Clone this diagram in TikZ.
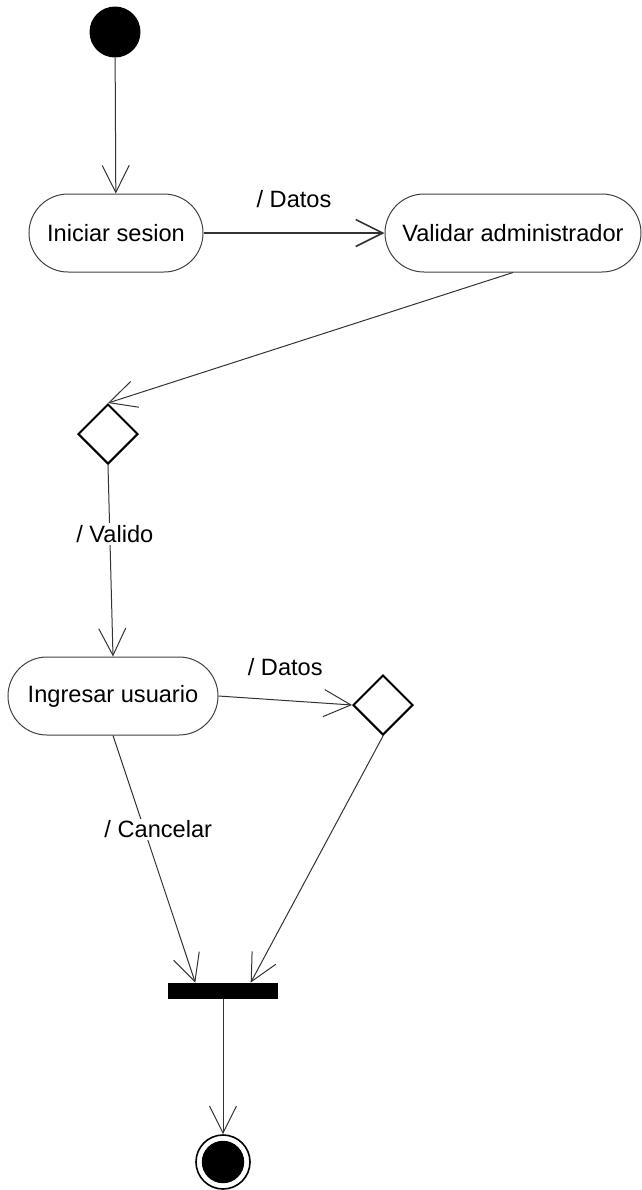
\documentclass[tikz,border=0pt]{standalone}
\usepackage{fontspec}
\setmainfont{Liberation Sans}
\usetikzlibrary{arrows.meta,shapes.geometric,calc}

\begin{document}
\begin{tikzpicture}[x=0.5pt,y=-0.5pt,
	every node/.style={font=\fontsize{11.8}{14}\selectfont},
	startstate/.style={circle,fill=black,minimum size=25.5pt,inner sep=0pt},
	endstate/.style={circle,draw,line width=0.8pt,minimum size=27pt,inner sep=0pt,
		path picture={\fill (path picture bounding box.center) circle (10.6pt);}},
	activity/.style={draw=black!75,line width=0.5pt,rectangle,rounded corners=19.5pt,minimum height=39pt,inner sep=0pt},
	decision/.style={draw,diamond,line width=1pt,aspect=1,minimum size=30pt,inner sep=0pt},
	syncbar/.style={rectangle,fill=black,minimum width=55pt,minimum height=8pt,inner sep=0pt},
	flow/.style={-{Straight Barb[length=13.5pt,width=13.5pt]},line width=0.5pt,draw=black!80},
	guard/.style={fill=white,inner sep=1pt}]
	\useasboundingbox (0,0) rectangle (642,1190);
	% Draw nodes
	\node[startstate] (inicio) at (115,32) {};
	\node[activity,minimum width=87pt] (iniciar) at (116,233) {Iniciar sesion};
	\node[activity,minimum width=128pt] (validar) at (513,233) {Validar administrador};
	\node[decision] (dec1) at (108,434) {};
	\node[activity,minimum width=105pt] (ingresar) at (113,696) {Ingresar usuario};
	\node[decision] (dec2) at (383,705) {};
	\node[syncbar] (barra) at (223,991) {};
	\node[endstate] (fin) at (223,1162) {};
	% Draw transitions
	\draw[flow] (inicio) -- (iniciar);
	\draw[flow,line width=0.8pt] (iniciar) -- node[above=9pt] {/ Datos} (validar);
	\draw[flow] (validar.south) -- (dec1.north);
	\draw[flow] (dec1.south) -- node[guard,pos=0.36,xshift=2.5pt] {/ Valido} (ingresar.north);
	\draw[flow] (ingresar.east) -- node[above=9pt] {/ Datos} (dec2.west);
	\draw[flow] (ingresar.south) -- node[guard,pos=0.38,xshift=7pt] {/ Cancelar}
		($(barra.north west)!0.25!(barra.north east)$);
	\draw[flow] (dec2.south) -- ($(barra.north west)!0.75!(barra.north east)$);
	\draw[flow] (barra) -- (fin);
\end{tikzpicture}
\end{document}
